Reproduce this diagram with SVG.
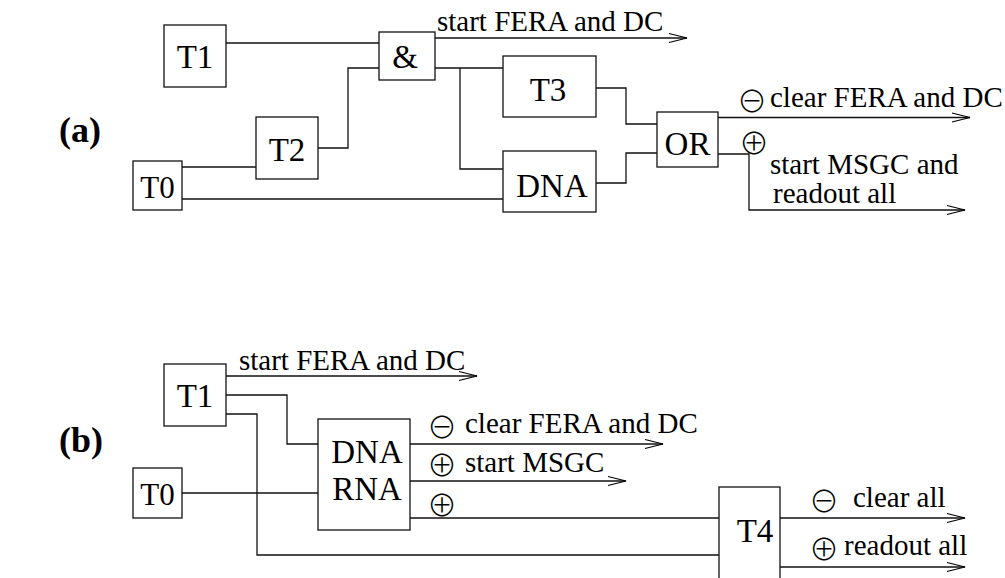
<svg xmlns="http://www.w3.org/2000/svg" width="1005" height="578" viewBox="0 0 1005 578">
<defs>
<marker id="arr" markerUnits="userSpaceOnUse" markerWidth="24" markerHeight="12" refX="20" refY="6" orient="auto" overflow="visible">
<path d="M2,1.5 L20,6 L2,10.5" fill="none" stroke="#000" stroke-width="1.2"/>
</marker>
</defs>
<style>
.box{fill:#fff;stroke:#111;stroke-width:1.3}
.w{fill:none;stroke:#111;stroke-width:1.3}
.bl{font-family:"Liberation Serif","Times New Roman",serif;font-size:33px;fill:#000;text-anchor:middle}
.lb{font-family:"Liberation Serif","Times New Roman",serif;font-size:29px;fill:#000}
.sym{font-family:"Noto Sans CJK JP","DejaVu Sans",sans-serif;font-size:30px;font-weight:300;fill:#000;text-anchor:middle;dominant-baseline:central}
.pl{font-family:"Liberation Serif","Times New Roman",serif;font-size:36px;font-weight:bold;fill:#000}
</style>
<rect width="1005" height="578" fill="#fff"/>

<text class="pl" x="59" y="142">(a)</text>
<text class="pl" x="59" y="452">(b)</text>

<g id="connectors">
<polyline class="w" points="226,43 379,43"/>
<polyline class="w" points="318,148 348,148 348,68 379,68"/>
<polyline class="w" points="182,167 256,167"/>
<polyline class="w" points="182,199 503,199"/>
<polyline class="w" points="435,38 687,38" marker-end="url(#arr)"/>
<polyline class="w" points="435,68 503,68"/>
<polyline class="w" points="460,68 460,169 503,169"/>
<polyline class="w" points="596,88 626,88 626,124 657,124"/>
<polyline class="w" points="596,183 626,183 626,153 657,153"/>
<polyline class="w" points="718,117.5 970,117.5" marker-end="url(#arr)"/>
<polyline class="w" points="718,154 749,154 749,210 965,210" marker-end="url(#arr)"/>

<polyline class="w" points="226,376 477,376" marker-end="url(#arr)"/>
<polyline class="w" points="226,395 287,395 287,444 318,444"/>
<polyline class="w" points="226,414 257,414 257,555 719,555"/>
<polyline class="w" points="182,493 318,493"/>
<polyline class="w" points="410,444 663,444" marker-end="url(#arr)"/>
<polyline class="w" points="410,481 626,481" marker-end="url(#arr)"/>
<polyline class="w" points="410,518 719,518"/>
<polyline class="w" points="780,518 965,518" marker-end="url(#arr)"/>
<polyline class="w" points="780,567 965,567" marker-end="url(#arr)"/>
</g>

<g id="a-T1"><rect class="box" x="164" y="25" width="62" height="62"/><text class="bl" x="195" y="68">T1</text></g>
<g id="a-and"><rect class="box" x="379" y="32" width="56" height="48"/><text class="bl" x="405" y="68">&amp;</text></g>
<g id="a-T2"><rect class="box" x="256" y="117" width="62" height="62"/><text class="bl" x="287" y="161">T2</text></g>
<g id="a-T0"><rect class="box" x="133" y="161" width="49" height="49"/><text class="bl" x="157.5" y="198" style="font-size:31px">T0</text></g>
<g id="a-T3"><rect class="box" x="503" y="56" width="93" height="61"/><text class="bl" x="548" y="101">T3</text></g>
<g id="a-DNA"><rect class="box" x="503" y="151" width="93" height="61"/><text class="bl" x="552" y="197">DNA</text></g>
<g id="a-OR"><rect class="box" x="657" y="112" width="61" height="55"/><text class="bl" x="687.5" y="155">OR</text></g>

<g id="a-labels">
<text class="lb" x="437" y="31">start FERA and DC</text>
<text class="sym" x="752" y="99">⊖</text>
<text class="lb" x="770" y="107">clear FERA and DC</text>
<text class="sym" x="754" y="141">⊕</text>
<text class="lb" x="770" y="174">start MSGC and</text>
<text class="lb" x="773" y="203">readout all</text>
</g>

<g id="b-T1"><rect class="box" x="164" y="364" width="62" height="62"/><text class="bl" x="195" y="407">T1</text></g>
<g id="b-DNARNA"><rect class="box" x="318" y="419" width="92" height="111"/><text class="bl" x="367" y="463">DNA</text><text class="bl" x="367" y="500">RNA</text></g>
<g id="b-T0"><rect class="box" x="133" y="468" width="49" height="50"/><text class="bl" x="157.5" y="505" style="font-size:31px">T0</text></g>
<g id="b-T4"><rect class="box" x="719" y="487" width="61" height="100"/><text class="bl" x="755" y="542">T4</text></g>

<g id="b-labels">
<text class="lb" x="239" y="370">start FERA and DC</text>
<text class="sym" x="442" y="425">⊖</text>
<text class="lb" x="465" y="433">clear FERA and DC</text>
<text class="sym" x="442" y="463">⊕</text>
<text class="lb" x="465" y="472">start MSGC</text>
<text class="sym" x="442" y="503">⊕</text>
<text class="sym" x="824" y="499">⊖</text>
<text class="lb" x="853" y="507">clear all</text>
<text class="sym" x="824" y="547">⊕</text>
<text class="lb" x="844" y="555">readout all</text>
</g>
</svg>
